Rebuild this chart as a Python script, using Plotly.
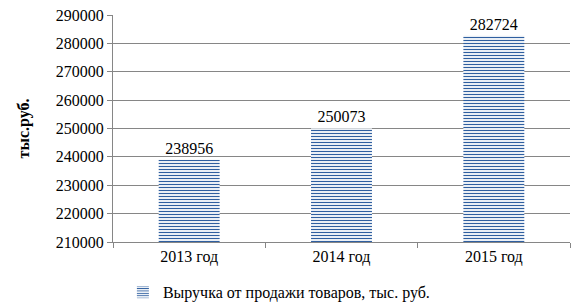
import plotly.graph_objects as go

categories = ["2013 год", "2014 год", "2015 год"]
values = [238956, 250073, 282724]
y_ticks = [210000, 220000, 230000, 240000, 250000, 260000, 270000, 280000, 290000]
series_name = "Выручка от продажи товаров, тыс. руб."

FONT = "Liberation Serif"
FS = 16

fig = go.Figure()
fig.add_trace(go.Bar(
    x=categories, y=values, name=series_name,
    width=0.4,
    marker=dict(
        color="white",
        line=dict(width=0),
        pattern=dict(shape="-", fgcolor="#2f5fa0", bgcolor="white", size=3, solidity=0.4, fillmode="replace"),
    ),
    text=[str(v) for v in values], textposition="outside",
    textfont=dict(family=FONT, size=FS, color="black"),
    cliponaxis=False,
    showlegend=True,
))

fig.update_layout(
    width=582, height=306,
    margin=dict(l=113, r=12, t=15, b=64, autoexpand=False),
    paper_bgcolor="white", plot_bgcolor="white",
    font=dict(family=FONT, size=FS, color="black"),
    bargap=0.6,
    showlegend=True,
    legend=dict(orientation="h", x=0.363, xanchor="center", xref="paper",
                y=0.045, yref="container", yanchor="middle",
                font=dict(family=FONT, size=FS),
                itemwidth=30, bgcolor="rgba(0,0,0,0)"),
    xaxis=dict(
        type="category", showline=True, linecolor="#868686", linewidth=1,
        ticks="outside", tickson="boundaries", ticklen=5, tickcolor="#868686",
        showgrid=False, tickfont=dict(family=FONT, size=FS),
    ),
    yaxis=dict(
        range=[210000, 290000], tickvals=y_ticks, ticktext=[str(t) for t in y_ticks],
        showline=True, linecolor="#868686", linewidth=1,
        ticks="outside", ticklen=5, tickcolor="#868686",
        showgrid=True, gridcolor="#868686", gridwidth=1,
        tickfont=dict(family=FONT, size=FS),
        title=dict(text="<b>тыс.руб.</b>", font=dict(family=FONT, size=FS), standoff=22),
        zeroline=False,
    ),
)

fig.write_html("out.html")
